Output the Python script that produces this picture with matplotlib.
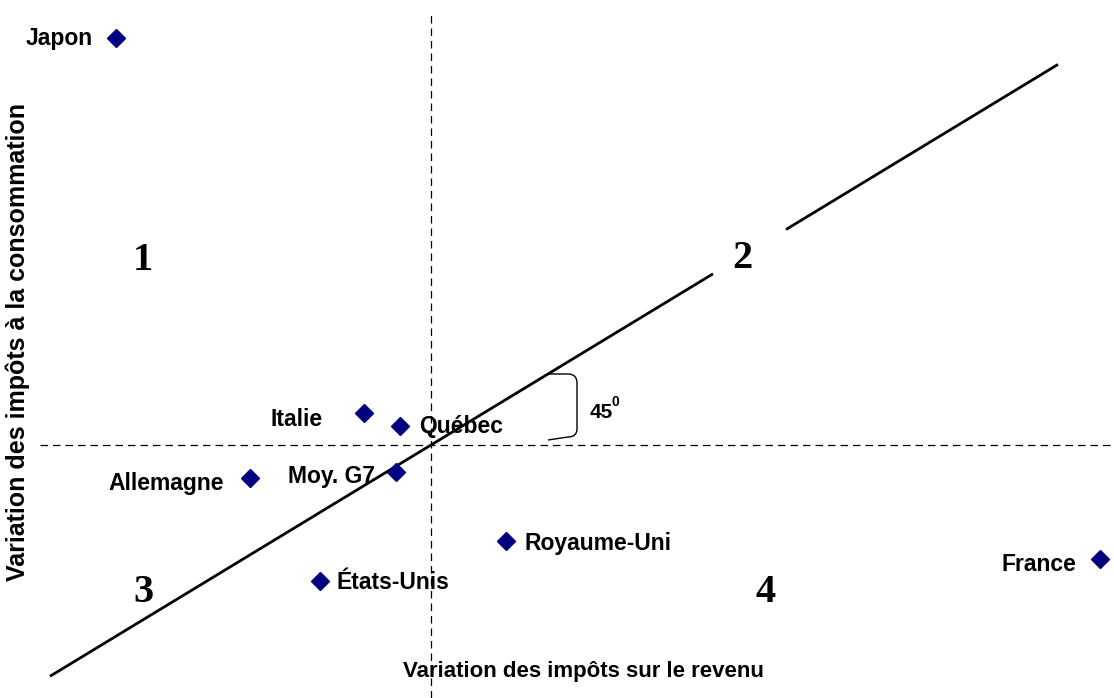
import matplotlib.pyplot as plt
from matplotlib.path import Path
from matplotlib.patches import PathPatch
import numpy as np

# Données (unités arbitraires, origine = croisement des axes)
pays = ['Japon', 'Italie', 'Québec', 'Allemagne', 'Moy. G7', 'Royaume-Uni', 'États-Unis', 'France']
impots_revenu = [-3.15, -0.67, -0.31, -1.81, -0.35, 0.75, -1.11, 6.69]
impots_conso = [4.07, 0.32, 0.19, -0.33, -0.27, -0.96, -1.36, -1.14]
# position des étiquettes : (ha, décalage x en points, décalage y en points)
etiquettes = {
    'Japon': ('right', -17, 0),
    'Italie': ('right', -30, -5),
    'Québec': ('left', 14, 0),
    'Allemagne': ('right', -19, -4),
    'Moy. G7': ('right', -15, -3),
    'Royaume-Uni': ('left', 13, -2),
    'États-Unis': ('left', 12, -1),
    'France': ('right', -17, -4),
}
quadrants = ['1', '2', '3', '4']
quad_pos = [(-2.88, 1.85), (3.11, 1.87), (-2.88, -1.48), (3.35, -1.48)]

pente = 0.607  # droite "45°" à l'échelle du graphique

fig = plt.figure(figsize=(11.14, 6.98), dpi=100)
ax = fig.add_axes([0, 0, 1, 1])
ax.set_xlim(-4.31, 6.83)
ax.set_ylim(-2.53, 4.45)
ax.axis('off')

# axes en pointillés
ax.plot([-3.91, 6.83], [0, 0], color='black', lw=0.9, ls=(0, (6, 4)))
ax.plot([0, 0], [-2.53, 4.30], color='black', lw=0.9, ls=(0, (6, 4)))

# droite à 45°, interrompue autour du « 2 »
for x0, x1 in [(-3.81, 2.82), (3.55, 6.27)]:
    xs = np.array([x0, x1])
    ax.plot(xs, pente * xs, color='black', lw=2.0, solid_capstyle='butt')

# accolade 45°
bx0, bx1 = 1.17, 1.46
by0, by1 = 0.07, pente * bx0
r = 0.09
verts = [(bx0, by1), (bx1 - r, by1), (bx1, by1), (bx1, by1 - r),
         (bx1, by0 + r), (bx1, by0 + 0.01), (bx1 - r, by0 + 0.01), (bx0, by0 - 0.02)]
codes = [Path.MOVETO, Path.LINETO, Path.CURVE3, Path.CURVE3,
         Path.LINETO, Path.CURVE3, Path.CURVE3, Path.LINETO]
ax.add_patch(PathPatch(Path(verts, codes), fill=False, lw=1.0, color='black'))
ax.text(1.585, 0.33, '45', fontsize=15, fontweight='bold',
        family='Liberation Sans', va='center', ha='left')
ax.text(1.81, 0.43, '0', fontsize=10, fontweight='bold',
        family='Liberation Sans', va='center', ha='left')

# points
ax.plot(impots_revenu, impots_conso, 'D', color='#000080', markersize=9, ls='none')
for nom, x, y in zip(pays, impots_revenu, impots_conso):
    ha, dx, dy = etiquettes[nom]
    ax.annotate(nom, (x, y), xytext=(dx, dy), textcoords='offset points',
                ha=ha, va='center', fontsize=16.5, fontweight='bold',
                family='Liberation Sans')

# numéros de quadrants
for q, (x, y) in zip(quadrants, quad_pos):
    ax.text(x, y, q, fontsize=29, fontweight='bold', family='Liberation Serif',
            ha='center', va='center')

fig.text(0.524, 0.038, 'Variation des impôts sur le revenu', fontsize=16,
         fontweight='bold', family='Liberation Sans', ha='center', va='center')
fig.text(0.016, 0.51, 'Variation des impôts à la consommation', fontsize=18,
         fontweight='bold', family='Liberation Sans', ha='center', va='center',
         rotation=90)

fig.savefig('out.png', dpi=100)
